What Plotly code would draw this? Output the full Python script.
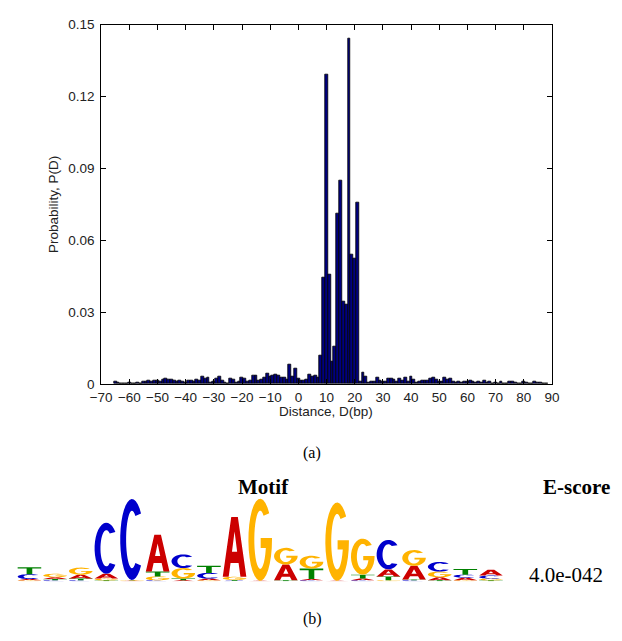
import numpy as np
import plotly.graph_objects as go

# ---- distance distribution P(D) ----
distance_start = -65
probability = [
    0.0008, 0.0005, 0.0, 0.0, 0.0002, 0.0006, 0.0002, 0.0002, 0.0004, 0.0003,   # -65..-56
    0.0010, 0.0008, 0.0015, 0.0010, 0.0013, 0.0016, 0.0012, 0.0019, 0.0021, 0.0018,  # -55..-46
    0.0017, 0.0015, 0.0012, 0.0013, 0.0010, 0.0005, 0.0016, 0.0014, 0.0009, 0.0018,  # -45..-36
    0.0016, 0.0030, 0.0021, 0.0026, 0.0005, 0.0009, 0.0021, 0.0031, 0.0015, 0.0006,  # -35..-26
    0.0003, 0.0022, 0.0019, 0.0006, 0.0009, 0.0027, 0.0022, 0.0009, 0.0015, 0.0036,  # -25..-16
    0.0033, 0.0016, 0.0019, 0.0026, 0.0042, 0.0031, 0.0036, 0.0039, 0.0036, 0.0026,  # -15..-6
    0.0025, 0.0020, 0.0083, 0.0029, 0.0065, 0.0024, 0.0016, 0.0015, 0.0018, 0.0040,  # -5..4
    0.0030, 0.0036, 0.0028, 0.0120, 0.0443, 0.1290, 0.0458, 0.0092, 0.0154, 0.0710,  # 5..14
    0.0848, 0.0345, 0.0332, 0.1440, 0.0540, 0.0523, 0.0758, 0.0012, 0.0047, 0.0031,  # 15..24
    0.0006, 0.0008, 0.0010, 0.0026, 0.0013, 0.0012, 0.0008, 0.0022, 0.0021, 0.0020,  # 25..34
    0.0008, 0.0023, 0.0015, 0.0026, 0.0012, 0.0030, 0.0020, 0.0005, 0.0008, 0.0016,  # 35..44
    0.0013, 0.0015, 0.0023, 0.0025, 0.0018, 0.0008, 0.0010, 0.0026, 0.0020, 0.0021,  # 45..54
    0.0010, 0.0005, 0.0008, 0.0005, 0.0012, 0.0008, 0.0013, 0.0008, 0.0005, 0.0012,  # 55..64
    0.0005, 0.0015, 0.0005, 0.0012, 0.0003, 0.0005, 0.0003, 0.0012, 0.0002, 0.0002,  # 65..74
    0.0010, 0.0008, 0.0005, 0.0003, 0.0003, 0.0010, 0.0005, 0.0003, 0.0002, 0.0008,  # 75..84
    0.0005, 0.0004, 0.0002, 0.0003,                                                  # 85..88
]
distance = list(range(distance_start, distance_start + len(probability)))

x_ticks = list(range(-70, 91, 10))
y_ticks = [0, 0.03, 0.06, 0.09, 0.12, 0.15]
y_tick_text = ["0", "0.03", "0.06", "0.09", "0.12", "0.15"]

# ---- motif logo: information content (bits) per letter and position ----
positions = list(range(1, 20))
bits_A = [0.03, 0.04, 0.09, 0.11, 0.01, 0.84, 0.02, 0.04, 1.36, 0.01,
          0.36, 0.03, 0.01, 0.04, 0.16, 0.31, 0.07, 0.06, 0.13]
bits_C = [0.11, 0.02, 0.02, 1.16, 1.84, 0.02, 0.31, 0.13, 0.01, 0.0,
          0.0, 0.02, 0.0, 0.02, 0.67, 0.02, 0.22, 0.07, 0.07]
bits_G = [0.02, 0.08, 0.16, 0.04, 0.01, 0.09, 0.24, 0.02, 0.07, 1.87,
          0.38, 0.29, 1.78, 0.82, 0.02, 0.36, 0.13, 0.02, 0.04]
bits_T = [0.16, 0.03, 0.04, 0.02, 0.01, 0.11, 0.04, 0.16, 0.02, 0.0,
          0.02, 0.24, 0.0, 0.09, 0.09, 0.02, 0.02, 0.13, 0.02]
e_score = "4.0e-042"

letter_colors = {"A": "#CC0000", "C": "#0000CC", "G": "#FFB300", "T": "#008000"}


# ---- glyph outlines in a unit box (x, y in 0..1) ----
def arc(cx, cy, rx, ry, a0, a1, n=28):
    t = np.radians(np.linspace(a0, a1, n))
    return list(zip(cx + rx * np.cos(t), cy + ry * np.sin(t)))


GLYPHS = {
    "C": [arc(.5, .5, .5, .5, 40, 320) + arc(.5, .5, .25, .355, 305, 55)],
    "G": [arc(.5, .5, .5, .5, 40, 360)
          + [(1.0, .52), (.52, .52), (.52, .40), (.74, .40)]
          + arc(.5, .5, .25, .355, 330, 55)],
    "A": [[(0, 0), (.36, 1), (.64, 1), (1, 0), (.75, 0), (.67, .23), (.33, .23), (.25, 0)],
          [(.39, .42), (.61, .42), (.5, .76)]],
    "T": [[(0, 1), (1, 1), (1, .83), (.62, .83), (.62, 0), (.38, 0), (.38, .83), (0, .83)]],
}

LETTER_W = 0.92


def glyph_path(letter, xc, y0, h):
    parts = []
    for poly in GLYPHS[letter]:
        pts = [(xc - LETTER_W / 2 + u * LETTER_W, y0 + v * h) for u, v in poly]
        parts.append("M " + " L ".join(f"{x:.4f},{y:.4f}" for x, y in pts) + " Z")
    return " ".join(parts)


W, H = 622, 641


def px(x):
    return x / W


def py(y):
    return (H - y) / H


fig = go.Figure()

fig.add_trace(go.Bar(
    x=distance, y=probability, width=1.0,
    marker=dict(color="#000080", line=dict(color="black", width=0.8)),
    xaxis="x", yaxis="y", showlegend=False,
))

# stacked letters: smallest at the bottom, largest on top
shapes = []
columns = {"A": bits_A, "C": bits_C, "G": bits_G, "T": bits_T}
for i, pos in enumerate(positions):
    stack = sorted(((columns[L][i], L) for L in "ACGT"), key=lambda t: t[0])
    base = 0.0
    for h, L in stack:
        if h <= 0:
            continue
        shapes.append(dict(
            type="path", xref="x2", yref="y2", path=glyph_path(L, pos, base, h),
            fillcolor=letter_colors[L], line=dict(width=0), layer="above",
        ))
        base += h

SANS = "Liberation Sans, Arial, sans-serif"
SERIF = "Liberation Serif, Times New Roman, serif"
axis_font = dict(family=SANS, size=13.5, color="#222")
frame = dict(showline=True, linecolor="black", linewidth=1, mirror="allticks",
             ticks="inside", ticklen=5, tickcolor="black", showgrid=False,
             zeroline=False, tickfont=axis_font)


def label(text, x, y, size, family, color="black", angle=0):
    return dict(text=text, x=px(x), y=py(y), xref="paper", yref="paper",
                xanchor="center", yanchor="middle", textangle=angle,
                showarrow=False, font=dict(family=family, size=size, color=color))


annotations = [
    label("Probability, P(D)", 44, 202, 13.5, SANS, "#222", -90),
    label("Distance, D(bp)", 325, 414, 13.5, SANS, "#222"),
    label("(a)", 310, 457, 16, SERIF),
    label("<b>Motif</b>", 260, 491, 21, SERIF),
    label("<b>E-score</b>", 583, 491, 21, SERIF),
    label(e_score, 572, 582, 21, SERIF),
    label("(b)", 311, 627, 16, SERIF),
]
for pos in positions:
    annotations.append(dict(
        text=str(pos), x=pos, y=-0.08, xref="x2", yref="y2",
        xanchor="center", yanchor="top", textangle=-90, showarrow=False,
        font=dict(family="DejaVu Sans, sans-serif", size=9, color="#222"),
    ))

fig.update_layout(
    width=W, height=H,
    margin=dict(l=0, r=0, t=0, b=0),
    paper_bgcolor="white", plot_bgcolor="white",
    xaxis=dict(domain=[px(93), px(558)], range=[-70, 90], tickvals=x_ticks,
               anchor="y", ticklabelstandoff=1, **frame),
    yaxis=dict(domain=[py(386), py(18)], range=[0, 0.15], tickvals=y_ticks,
               ticktext=y_tick_text, anchor="x", ticklabelstandoff=3, **frame),
    xaxis2=dict(domain=[px(5.8), px(508.3)], range=[0.5, 19.5], visible=False,
                anchor="y2"),
    yaxis2=dict(domain=[py(588), py(498)], range=[0, 2], visible=False, anchor="x2"),
    shapes=shapes,
    annotations=annotations,
    bargap=0,
)

fig.write_html("out.html")
